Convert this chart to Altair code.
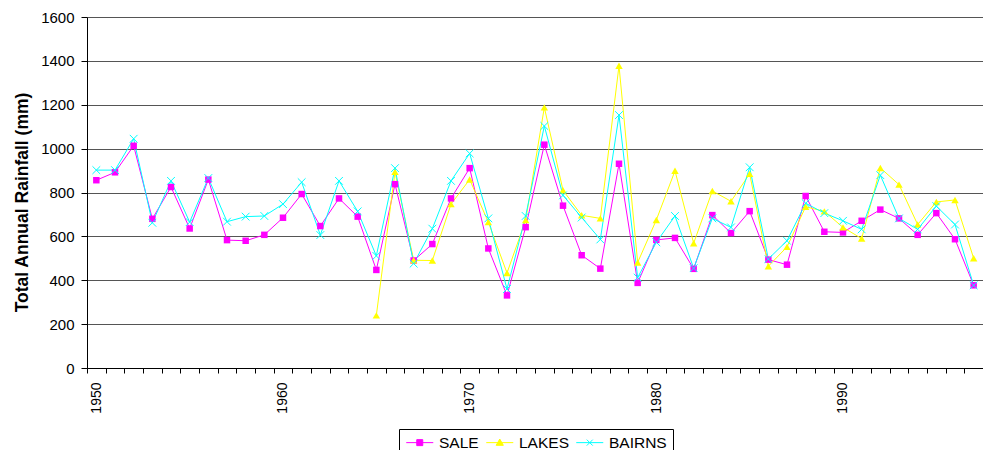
import altair as alt
import pandas as pd

years = list(range(1950, 1998))

sale = [856, 892, 1013, 680, 825, 636, 859, 583, 580, 607,
        685, 793, 647, 773, 690, 447, 838, 490, 565, 773,
        911, 545, 331, 642, 1018, 740, 514, 453, 931, 388,
        584, 593, 452, 697, 615, 715, 494, 471, 784, 621,
        618, 671, 722, 682, 607, 706, 587, 377]

lakes = [None] * 15 + [240, 894, 491, 490, 747,
         859, 665, 433, 674, 1188, 810, 696, 682, 1378, 481,
         675, 899, 569, 807, 760, 885, 464, 552, 735, 714,
         641, 590, 912, 836, 654, 757, 766, 500]

bairns = [902, 902, 1045, 662, 853, 665, 866, 667, 690, 693,
          747, 847, 606, 853, 714, 511, 911, 476, 635, 853,
          978, 682, 360, 693, 1103, 787, 686, 586, 1153, 412,
          573, 693, 455, 682, 641, 915, 497, 580, 751, 706,
          671, 632, 879, 682, 632, 738, 654, 377]

series_names = ["SALE", "LAKES", "BAIRNS"]
series_colors = ["#FF00FF", "#FFFF00", "#00FFFF"]
y_ticks = [0, 200, 400, 600, 800, 1000, 1200, 1400, 1600]

rows = []
for name, vals in zip(series_names, [sale, lakes, bairns]):
    for yr, v in zip(years, vals):
        if v is not None:
            rows.append({"year": yr, "rain": v, "series": name})
df = pd.DataFrame(rows)

FONT = "Liberation Sans"
boundaries = [y - 0.5 for y in years] + [years[-1] + 0.5]
xscale = alt.Scale(domain=[years[0] - 0.5, years[-1] + 0.5], nice=False, zero=False)
yscale = alt.Scale(domain=[0, 1600], nice=False)

x_axis = alt.Axis(orient="bottom", values=boundaries, tickSize=5, tickColor="black",
                  domainColor="black", grid=False, title=None,
                  labelExpr="(datum.value + 0.5) % 10 == 0 ? format(datum.value + 0.5, 'd') : ''",
                  labelAngle=-90, labelOffset=9.33, labelPadding=9, labelFont=FONT,
                  labelFontSize=14, labelColor="black", labelOverlap=False, labelBound=False,
                  labelFlush=False)
y_axis = alt.Axis(values=y_ticks, format="d", tickSize=6, tickColor="black", domainColor="black",
                  labelFont=FONT, labelFontSize=15, labelColor="black", labelPadding=7,
                  grid=True, gridColor="#555555", gridWidth=1,
                  title="Total Annual Rainfall (mm)", titleFont=FONT, titleFontSize=17.5,
                  titleFontWeight="bold", titleColor="black", titleAngle=-90,
                  titleX=-60, titleY=185, titleAlign="center", titleBaseline="alphabetic")

base = alt.Chart(df)
layers = []
for i, (name, col) in enumerate(zip(series_names, series_colors)):
    layers.append(
        base.transform_filter(alt.datum.series == name)
        .mark_line(color=col, strokeWidth=1)
        .encode(x=alt.X("year:Q", scale=xscale, axis=x_axis if i == 0 else None),
                y=alt.Y("rain:Q", scale=yscale, axis=y_axis if i == 0 else None))
    )

marker_specs = {
    "SALE": dict(shape="square", filled=True, size=42),
    "LAKES": dict(shape="triangle-up", filled=True, size=55),
    "BAIRNS": dict(shape="M-1,-1L1,1M-1,1L1,-1", filled=False, size=60, strokeWidth=1),
}
for name, col in zip(series_names, series_colors):
    layers.append(
        base.transform_filter(alt.datum.series == name)
        .mark_point(color=col, opacity=1, **marker_specs[name])
        .encode(x=alt.X("year:Q", scale=xscale, axis=None),
                y=alt.Y("rain:Q", scale=yscale, axis=None))
    )

legend_shapes = [
    "M-1,0H3.5M0.75,-0.5H1.75V0.5H0.75Z",
    "M-1,0H3.5M1.25,-0.6L1.85,0.45H0.65Z",
    "M-1,0H3.5M0.75,-0.5L1.75,0.5M0.75,0.5L1.75,-0.5",
]
leg = alt.Legend(title=None, orient="none", legendX=312, legendY=412, direction="horizontal",
                 strokeColor="black", fillColor="white", padding=5.5, symbolSize=144,
                 symbolStrokeWidth=1, labelOffset=19, columnPadding=4, labelFont=FONT,
                 labelFontSize=15.5, labelColor="black", cornerRadius=0, labelLimit=0)
legend_layer = (
    base.transform_filter("false")
    .mark_point(opacity=1, filled=True)
    .encode(
        fill=alt.Fill("series:N", scale=alt.Scale(domain=series_names, range=series_colors), legend=leg),
        stroke=alt.Stroke("series:N", scale=alt.Scale(domain=series_names, range=series_colors), legend=leg),
        shape=alt.Shape("series:N", scale=alt.Scale(domain=series_names, range=legend_shapes), legend=leg),
    )
)
layers.append(legend_layer)

chart = (
    alt.layer(*layers)
    .resolve_axis(x="independent", y="independent")
    .properties(width=896, height=351, autosize=alt.AutoSizeParams(type="none"),
                padding={"left": 87, "top": 17, "right": 0, "bottom": 82},
                background="white")
    .configure_view(stroke=None)
    .configure_legend(strokeColor="black", fillColor="white", padding=5.5, symbolSize=144,
                      symbolStrokeWidth=1, labelOffset=19, columnPadding=4, labelFont=FONT,
                      labelFontSize=15.5, labelColor="black", cornerRadius=0, labelLimit=0)
)

chart.save("out.html", embed_options={"renderer": "svg", "actions": False})
